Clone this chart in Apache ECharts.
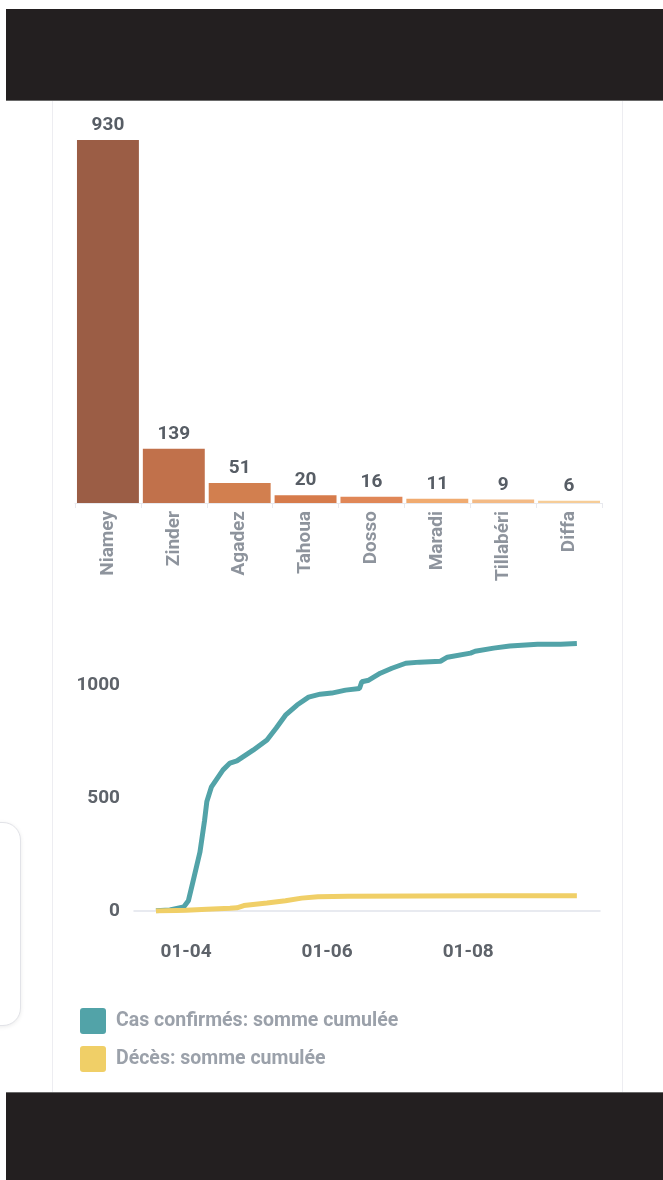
<!DOCTYPE html>
<html>
<head>
<meta charset="utf-8">
<script src="https://cdn.jsdelivr.net/npm/echarts@6/dist/echarts.min.js"></script>
<style>
  html, body { margin: 0; padding: 0; background: #ffffff; width: 663px; height: 1180px; overflow: hidden; }
  .blk { position: absolute; background: #231f20; }
  .vline { position: absolute; width: 1px; background: #ededf1; }
  #pill { position: absolute; left: -32px; top: 822px; width: 51px; height: 202px; border: 1px solid #e2e3e8; border-radius: 18px; box-shadow: 0 1px 4px rgba(0,0,0,0.08); background: #fff; }
  #chart { position: absolute; left: 0; top: 0; width: 663px; height: 1180px; }
</style>
</head>
<body>
<div class="blk" style="left:6px; top:9px; width:657px; height:91px; border-bottom:1px solid #6a6a6a;"></div>
<div class="blk" style="left:6px; top:1092px; width:657px; height:88px; border-top:1px solid #6a6a6a;"></div>
<div class="vline" style="left:52px; top:101px; height:991px;"></div>
<div class="vline" style="left:622px; top:101px; height:991px;"></div>
<div id="pill"></div>
<div id="chart"></div>
<script>
// ---- Bar chart data (cases by region) ----
const regions = ['Niamey', 'Zinder', 'Agadez', 'Tahoua', 'Dosso', 'Maradi', 'Tillabéri', 'Diffa'];
const regionCases = [930, 139, 51, 20, 16, 11, 9, 6];
const regionColors = ['#9b5d45', '#c1714b', '#d27f4f', '#d67b4b', '#e08757', '#f0ab70', '#f3ba85', '#f6cd98'];

// ---- Line chart data (cumulative sums) ----
const confirmedDates = ['2020-03-19','2020-03-25','2020-03-31','2020-04-02','2020-04-04','2020-04-07','2020-04-09','2020-04-10','2020-04-12','2020-04-17','2020-04-20','2020-04-23','2020-04-30','2020-05-06','2020-05-10','2020-05-14','2020-05-19','2020-05-24','2020-05-29','2020-06-03','2020-06-09','2020-06-15','2020-06-16','2020-06-19','2020-06-24','2020-06-29','2020-07-05','2020-07-11','2020-07-20','2020-07-23','2020-08-02','2020-08-04','2020-08-12','2020-08-19','2020-08-31','2020-09-10','2020-09-17'];
const confirmedValues = [1, 5, 18, 45, 130, 260, 400, 485, 550, 625, 655, 665, 712, 757, 810, 867, 912, 947, 960, 965, 978, 985, 1015, 1022, 1053, 1075, 1097, 1102, 1106, 1124, 1142, 1150, 1164, 1173, 1181, 1181, 1184];

const deathDates = ['2020-03-19','2020-04-01','2020-04-10','2020-04-20','2020-04-23','2020-04-26','2020-05-06','2020-05-14','2020-05-21','2020-05-28','2020-06-10','2020-07-10','2020-08-10','2020-09-17'];
const deathValues = [0, 3, 8, 12, 14, 24, 35, 45, 57, 63, 65, 66, 67, 68];

const xTickDates = ['2020-04-01', '2020-06-01', '2020-08-01'];
const yTicks = [0, 500, 1000];

const seriesNames = ['Cas confirmés: somme cumulée', 'Décès: somme cumulée'];

// x of the line chart = days since 2020-04-01 (value axis)
const DAY = 86400000;
function ts(s) { const p = s.split('-').map(Number); return Date.UTC(p[0], p[1] - 1, p[2]); }
const ORIGIN = ts('2020-04-01');
function dayOf(s) { return Math.round((ts(s) - ORIGIN) / DAY); }
function pad(n) { return (n < 10 ? '0' : '') + n; }

const FONT = 'Roboto';
const LEGEND_ICON = 'path://M3,0H23A3,3,0,0,1,26,3V23A3,3,0,0,1,23,26H3A3,3,0,0,1,0,23V3A3,3,0,0,1,3,0Z';
const chart = echarts.init(document.getElementById('chart'), null, { renderer: 'canvas' });
chart.setOption({
  animation: false,
  backgroundColor: 'transparent',
  textStyle: { fontFamily: FONT },
  grid: [
    { left: 75, right: 61, top: 140, bottom: 677 },
    { left: 134, right: 63, top: 640, bottom: 269 }
  ],
  legend: {
    data: seriesNames,
    orient: 'vertical',
    left: 80,
    top: 1008,
    padding: 0,
    itemWidth: 26,
    itemHeight: 26,
    itemGap: 12,
    icon: LEGEND_ICON,
    textStyle: { fontFamily: FONT, fontSize: 19.5, fontWeight: 'bold', color: '#9ba1aa', padding: [3, 0, 0, 5] }
  },
  xAxis: [
    {
      gridIndex: 0, type: 'category', data: regions,
      axisLine: { lineStyle: { color: '#e8e9ee', width: 1 } },
      axisTick: { show: true, length: 5, lineStyle: { color: '#e8e9ee' } },
      axisLabel: { rotate: 90, margin: 8, fontFamily: FONT, fontSize: 19, fontWeight: 'bold', color: '#8e949d', interval: 0 }
    },
    {
      gridIndex: 1, type: 'value',
      min: -22.5,
      max: 179,
      axisLine: { lineStyle: { color: '#e1e4eb', width: 1.5 } },
      axisTick: { show: false },
      splitLine: { show: false },
      axisLabel: {
        customValues: xTickDates.map(dayOf),
        margin: 32, fontFamily: FONT, fontSize: 19, fontWeight: 'bold', color: '#5e636a',
        formatter: function (v) { const d = new Date(ORIGIN + v * DAY); return pad(d.getUTCDate()) + '-' + pad(d.getUTCMonth() + 1); }
      }
    }
  ],
  yAxis: [
    { gridIndex: 0, type: 'value', min: 0, max: 930, show: false, splitLine: { show: false } },
    {
      gridIndex: 1, type: 'value', min: 0, max: 1200,
      axisLine: { show: false }, axisTick: { show: false }, splitLine: { show: false },
      axisLabel: {
        customValues: yTicks, margin: 14, fontFamily: FONT, fontSize: 19, fontWeight: 'bold', color: '#5e636a',
        formatter: function (v) { return String(v); }
      }
    }
  ],
  series: [
    {
      type: 'bar', xAxisIndex: 0, yAxisIndex: 0,
      barCategoryGap: '6%',
      data: regionCases.map((v, i) => ({ value: v, itemStyle: { color: regionColors[i] } })),
      label: { show: true, position: 'top', distance: 5, fontFamily: FONT, fontSize: 19, fontWeight: 'bold', color: '#575d65' }
    },
    {
      name: seriesNames[0], type: 'line', xAxisIndex: 1, yAxisIndex: 1,
      color: '#52a3a8', showSymbol: false, symbol: 'none',
      lineStyle: { width: 5, color: '#52a3a8' },
      data: confirmedDates.map((d, i) => [dayOf(d), confirmedValues[i]])
    },
    {
      name: seriesNames[1], type: 'line', xAxisIndex: 1, yAxisIndex: 1,
      color: '#f0cf67', showSymbol: false, symbol: 'none',
      lineStyle: { width: 5, color: '#f0cf67' },
      data: deathDates.map((d, i) => [dayOf(d), deathValues[i]])
    }
  ]
});
</script>
</body>
</html>
